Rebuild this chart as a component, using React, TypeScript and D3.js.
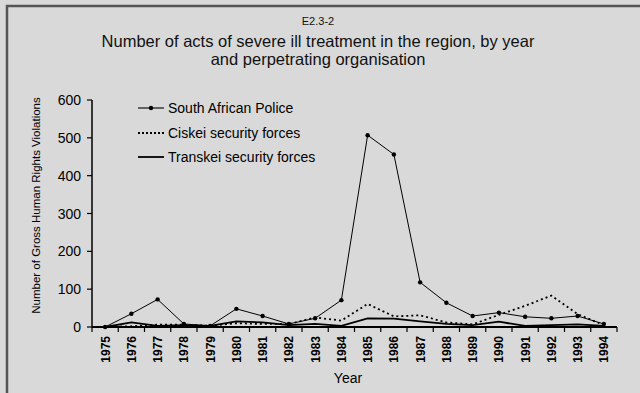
import React from "react";
import * as d3 from "d3";

const years = ["1975","1976","1977","1978","1979","1980","1981","1982","1983","1984","1985","1986","1987","1988","1989","1990","1991","1992","1993","1994"];
const sapValues = [0, 35, 73, 8, 3, 48, 29, 8, 23, 71, 507, 456, 118, 64, 29, 38, 27, 23, 29, 8];
const ciskeiValues = [0, 2, 6, 6, 3, 10, 8, 8, 25, 17, 61, 28, 31, 12, 7, 32, 56, 83, 34, 5];
const transkeiValues = [0, 12, 3, 5, 3, 15, 12, 5, 8, 3, 23, 22, 15, 8, 5, 14, 3, 5, 7, 3];
const yTicks = [0, 100, 200, 300, 400, 500, 600];
const seriesNames = ["South African Police", "Ciskei security forces", "Transkei security forces"];

const W = 640, H = 393;
const left = 92, right = 617, top = 100, bottom = 327;

export default function App() {
  const x = d3.scaleBand<string>().domain(years).range([left, right]);
  const y = d3.scaleLinear().domain([0, 600]).range([bottom, top]);
  const cx = (i: number) => (x(years[i]) as number) + x.bandwidth() / 2;
  const line = d3.line<number>().x((_, i) => cx(i)).y((d) => y(d));
  const font = "'Liberation Sans', Arial, sans-serif";
  const narrow = "'Liberation Sans Narrow', 'Arial Narrow', 'Liberation Sans', sans-serif";
  const legendY = [108, 133, 157];

  return (
    <svg width={W} height={H} style={{ position: "absolute", left: 0, top: 0, background: "#d9d9d9" }}>
      <rect x={0} y={0} width={W} height={H} fill="#d9d9d9" />
      <path d={`M7,${H} V6 H${W}`} fill="none" stroke="#555" strokeWidth={2.5} />
      <text x={318} y={25} textAnchor="middle" fontFamily={narrow} fontSize={11} fill="#111">E2.3-2</text>
      <text x={318} y={47} textAnchor="middle" fontFamily={narrow} fontSize={16.5} fill="#111">Number of acts of severe ill treatment in the region, by year</text>
      <text x={318} y={65} textAnchor="middle" fontFamily={narrow} fontSize={16.5} fill="#111">and perpetrating organisation</text>

      {/* y axis */}
      <line x1={left} x2={left} y1={top} y2={bottom} stroke="#000" strokeWidth={1.5} />
      {yTicks.map((t) => (
        <g key={t}>
          <line x1={left - 5} x2={left} y1={y(t)} y2={y(t)} stroke="#000" strokeWidth={1.2} />
          <text x={left - 11} y={y(t) + 5} textAnchor="end" fontFamily={font} fontSize={14} fill="#000">{t}</text>
        </g>
      ))}
      <text transform={`translate(40,${(top + bottom) / 2 - 8}) rotate(-90)`} textAnchor="middle" fontFamily={font} fontSize={11.5} fill="#000">Number of Gross Human Rights Violations</text>

      {/* x axis */}
      <line x1={left} x2={right} y1={bottom} y2={bottom} stroke="#000" strokeWidth={2} />
      {years.map((yr, i) => (
        <g key={yr}>
          <line x1={(x(yr) as number)} x2={(x(yr) as number)} y1={bottom} y2={bottom + 5} stroke="#000" strokeWidth={1.2} />
          <text transform={`translate(${cx(i) + 4.5},${bottom + 9}) rotate(-90)`} textAnchor="end" fontFamily={font} fontSize={12} fontWeight="bold" fill="#000">{yr}</text>
        </g>
      ))}
      <line x1={right} x2={right} y1={bottom} y2={bottom + 5} stroke="#000" strokeWidth={1.2} />
      <text x={348} y={383} textAnchor="middle" fontFamily={font} fontSize={14} fill="#000">Year</text>

      {/* series */}
      <path d={line(transkeiValues) as string} fill="none" stroke="#000" strokeWidth={1.8} />
      <path d={line(ciskeiValues) as string} fill="none" stroke="#000" strokeWidth={1.8} strokeDasharray="2,3" />
      <path d={line(sapValues) as string} fill="none" stroke="#000" strokeWidth={1} />
      {sapValues.map((v, i) => (
        <circle key={i} cx={cx(i)} cy={y(v)} r={2.2} fill="#000" />
      ))}

      {/* legend */}
      {seriesNames.map((n, i) => (
        <g key={n}>
          <line x1={138} x2={164} y1={legendY[i]} y2={legendY[i]} stroke="#000"
            strokeWidth={i === 0 ? 1.1 : 1.8} strokeDasharray={i === 1 ? "2,2" : undefined} />
          {i === 0 && <circle cx={151} cy={legendY[i]} r={2.2} fill="#000" />}
          <text x={168} y={legendY[i] + 5} fontFamily={font} fontSize={14} fill="#000">{n}</text>
        </g>
      ))}
    </svg>
  );
}
